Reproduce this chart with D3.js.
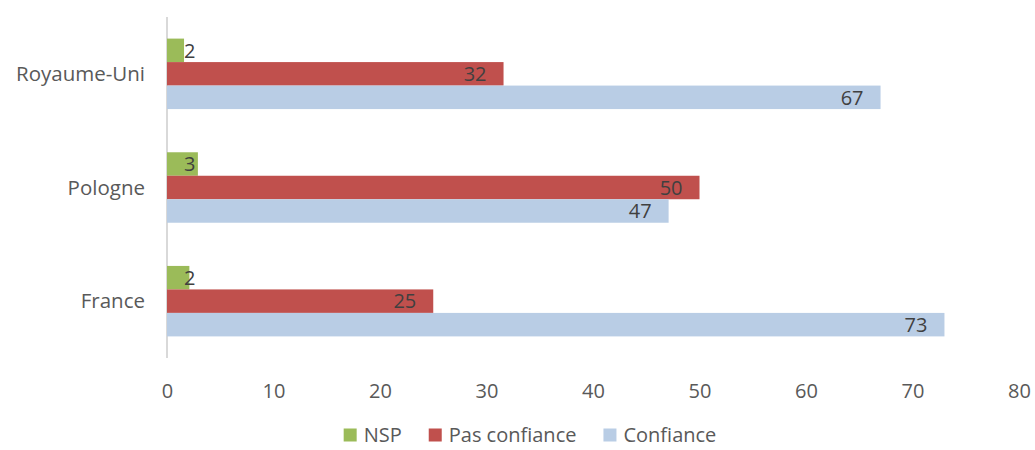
<!DOCTYPE html>
<html><head><meta charset="utf-8">
<script src="https://cdn.jsdelivr.net/npm/d3@7"></script>
<style>body{margin:0;background:#fff;} text{font-family:"Open Sans",sans-serif;}</style>
</head><body>
<svg id="chart" width="1035" height="450"></svg>
<script>
const categories = ["Royaume-Uni", "Pologne", "France"];
const seriesNames = ["NSP", "Pas confiance", "Confiance"];
const nsp = [1.6, 2.9, 2.1];
const pasConfiance = [31.6, 50, 25];
const confiance = [67, 47.1, 73];
const seriesLabels = [[2, 3, 2], [32, 50, 25], [67, 47, 73]];
const xTicks = [0, 10, 20, 30, 40, 50, 60, 70, 80];
const colors = ["#9BBB59", "#C0504D", "#B9CDE5"];

const seriesValues = [nsp, pasConfiance, confiance];
const svg = d3.select("#chart");
const x = d3.scaleLinear().domain([0, 80]).range([167, 1019]);
const y = d3.scaleBand().domain(categories).range([17, 358]).paddingInner(0.38).paddingOuter(0.19);
const yi = d3.scaleBand().domain(seriesNames).range([0, y.bandwidth()]);

// axis line
svg.append("line").attr("x1", x(0)).attr("x2", x(0)).attr("y1", 17).attr("y2", 358)
  .attr("stroke", "#D9D9D9").attr("stroke-width", 2);

// x tick labels
const xAxis = d3.axisBottom(x).tickValues(xTicks).tickSize(0).tickPadding(0);
const gx = svg.append("g").attr("transform", "translate(0,398)").call(xAxis);
gx.select(".domain").remove();
gx.selectAll("text").attr("dy", 0).attr("font-size", 20).attr("fill", "#595959")
  .attr("font-family", "Open Sans");

// category labels
const yAxis = d3.axisLeft(y).tickSize(0).tickPadding(0);
const gy = svg.append("g").attr("transform", "translate(145,0)").call(yAxis);
gy.select(".domain").remove();
gy.selectAll("text").attr("font-size", 20.5).attr("fill", "#595959").attr("font-family", "Open Sans")
  .attr("dy", "0.35em");

// bars
seriesNames.forEach((s, si) => {
  const g = svg.append("g");
  categories.forEach((c, ci) => {
    const v = seriesValues[si][ci];
    const y0 = y(c) + yi(s);
    g.append("rect").attr("x", x(0)).attr("y", y0)
      .attr("width", x(v) - x(0)).attr("height", yi.bandwidth())
      .attr("fill", colors[si]);
    const t = g.append("text").text(seriesLabels[si][ci])
      .attr("font-size", 20).attr("fill", "#404040")
      .attr("y", y0 + yi.bandwidth() / 2).attr("dy", "0.36em");
    const w = t.node().getComputedTextLength();
    let right = x(v) - 17;
    if (right - w < x(0) + 17) right = x(0) + 17 + w;
    t.attr("x", right).attr("text-anchor", "end");
  });
});

// legend
const leg = svg.append("g");
let lx = 0;
seriesNames.forEach((s, i) => {
  const gi = leg.append("g");
  gi.append("rect").attr("x", lx).attr("y", -6.5).attr("width", 13).attr("height", 13).attr("fill", colors[i]);
  const t = gi.append("text").text(s).attr("x", lx + 20).attr("y", 0).attr("dy", "0.35em")
    .attr("font-size", 20).attr("fill", "#595959");
  lx += 20 + t.node().getComputedTextLength() + 27;
});
const total = lx - 27;
leg.attr("transform", `translate(${530 - total / 2},435)`);
</script>
</body></html>
